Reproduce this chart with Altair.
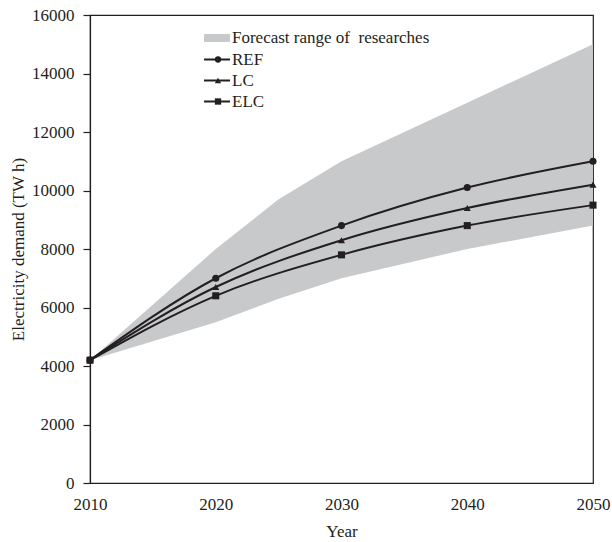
import altair as alt
import pandas as pd

years = [2010, 2020, 2030, 2040, 2050]
ref = [4200, 7000, 8800, 10100, 11000]
lc = [4200, 6700, 8300, 9400, 10200]
elc = [4200, 6400, 7800, 8800, 9500]

range_years = [2010, 2020, 2025, 2030, 2040, 2050]
range_low = [4200, 5500, 6300, 7000, 8000, 8800]
range_high = [4200, 8000, 9700, 11000, 13000, 15000]

series_names = ["REF", "LC", "ELC"]
series_shapes = ["circle", "triangle-up", "square"]
range_label = "Forecast range of\u00a0 researches"

x_ticks = [2010, 2020, 2030, 2040, 2050]
y_ticks = [0, 2000, 4000, 6000, 8000, 10000, 12000, 14000, 16000]

FONT = "Liberation Serif"
INK = "#231f20"
GRAY = "#c8c9cb"

rows = []
for name, vals in zip(series_names, [ref, lc, elc]):
    for yr, v in zip(years, vals):
        rows.append({"year": yr, "value": v, "series": name})
lines_df = pd.DataFrame(rows)
range_df = pd.DataFrame({"year": range_years, "low": range_low, "high": range_high})

xscale = alt.Scale(domain=[2010, 2050], nice=False, zero=False)
yscale = alt.Scale(domain=[0, 16000], nice=False)

common_axis = dict(
    labelFont=FONT, titleFont=FONT, labelFontSize=17, titleFontSize=17,
    labelColor=INK, titleColor=INK, titleFontWeight="normal",
    domainColor=INK, tickColor=INK, domainWidth=1.2, tickWidth=1.2, grid=False,
    labelFlush=False, labelOverlap=False,
)

xaxis = alt.Axis(values=x_ticks, format="d", title="Year", ticks=False,
                 labelPadding=13, titleY=53, titleBaseline="alphabetic", **common_axis)
yaxis = alt.Axis(values=y_ticks, format="d", title="Electricity demand (TW h)",
                 tickSize=7, labelPadding=9,
                 titleX=-72, titleY=234, titleAngle=270, titleBaseline="middle",
                 titleAlign="center", **common_axis)

area = alt.Chart(range_df).mark_area(color=GRAY, opacity=1).encode(
    x=alt.X("year:Q", scale=xscale, axis=xaxis),
    y=alt.Y("low:Q", scale=yscale, axis=yaxis),
    y2="high:Q",
)

shape_scale = alt.Scale(domain=series_names, range=series_shapes)

lines = alt.Chart(lines_df).mark_line(color=INK, strokeWidth=2, interpolate="monotone").encode(
    x=alt.X("year:Q", scale=xscale),
    y=alt.Y("value:Q", scale=yscale),
    detail="series:N",
)

points = alt.Chart(lines_df).mark_point(filled=True, color=INK, size=50, opacity=1).encode(
    x=alt.X("year:Q", scale=xscale),
    y=alt.Y("value:Q", scale=yscale),
    shape=alt.Shape("series:N", scale=shape_scale, legend=None),
)

# manual legend (pixel positions inside the plot area)
leg_layers = []
leg_rect = alt.Chart(pd.DataFrame({"label": [range_label]})).mark_rect(color=GRAY).encode(
    x=alt.value(114), x2=alt.value(140), y=alt.value(19), y2=alt.value(27))
leg_layers.append(leg_rect)
leg_layers.append(
    alt.Chart(pd.DataFrame({"label": [range_label]})).mark_text(
        align="left", baseline="middle", font=FONT, fontSize=17, color=INK
    ).encode(x=alt.value(142), y=alt.value(23), text="label:N")
)
row_y = [44.5, 65.5, 86.5]
for name, shp, ry in zip(series_names, series_shapes, row_y):
    d = pd.DataFrame({"label": [name]})
    leg_layers.append(alt.Chart(d).mark_rule(color=INK, strokeWidth=2).encode(
        x=alt.value(114), x2=alt.value(140), y=alt.value(ry)))
    leg_layers.append(alt.Chart(d).mark_point(filled=True, color=INK, size=40, opacity=1, shape=shp).encode(
        x=alt.value(128), y=alt.value(ry)))
    leg_layers.append(alt.Chart(d).mark_text(
        align="left", baseline="middle", font=FONT, fontSize=17, color=INK
    ).encode(x=alt.value(142), y=alt.value(ry + 0.5), text="label:N"))

chart = alt.layer(area, lines, points, *leg_layers).properties(
    width=503, height=468,
    autosize=alt.AutoSizeParams(type="none"),
    padding={"left": 90, "top": 15, "right": 19, "bottom": 59},
    background="white",
).configure_view(
    stroke=INK, strokeWidth=1.2
)

chart.save("out.html", embed_options={"renderer": "svg", "actions": False})
